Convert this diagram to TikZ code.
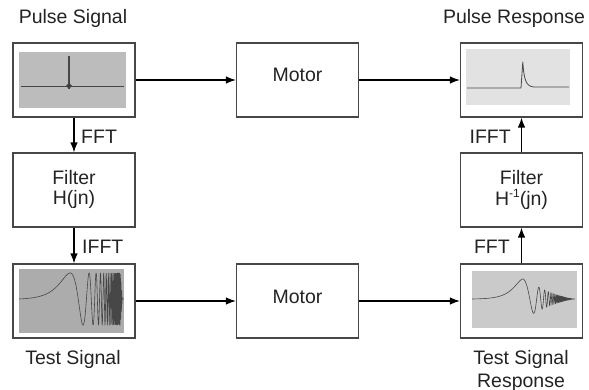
\documentclass[tikz,border=0pt]{standalone}
\usepackage{fontspec}
\setmainfont{Liberation Sans}
\usetikzlibrary{arrows.meta}
\definecolor{psgray}{RGB}{188,188,188}
\definecolor{prgray}{RGB}{226,226,226}
\definecolor{tsgray}{RGB}{172,172,172}
\definecolor{trgray}{RGB}{202,202,202}
\definecolor{txt}{RGB}{35,35,35}
\begin{document}
\begin{tikzpicture}[x=1pt,y=-1pt,
  lbl/.style={font=\fontsize{19.5}{22}\selectfont, text=txt, inner sep=0pt, anchor=base},
  blockbox/.style={draw=black!72, line width=1.1pt, minimum width=122pt, minimum height=74pt, inner sep=0pt},
  conn/.style={line width=1.3pt, draw=black, -{Latex[length=10pt,width=7.5pt]}},
  trace/.style={draw=black!72, line width=0.8pt, line join=round}]
\useasboundingbox (0,0) rectangle (589,390);
% boxes
\node[blockbox] (ps) at (74,80) {};
\node[blockbox] (m1) at (297.5,80) {};
\node[blockbox] (pr) at (521.5,80) {};
\node[blockbox] (f1) at (74,190) {};
\node[blockbox] (f2) at (521.5,190) {};
\node[blockbox] (ts) at (74,301) {};
\node[blockbox] (m2) at (297.5,301) {};
\node[blockbox] (tr) at (521.5,301) {};
% pulse signal picture
\fill[psgray] (19,52) rectangle (126,108);
\draw[trace] (21,86) -- (124,86);
\draw[trace, line width=2pt] (69,56) -- (69,89);
\fill[black!75] (66,86) -- (69,83) -- (72,86) -- (69,89) -- cycle;
% pulse response picture
\fill[prgray] (466,49) rectangle (570,105);
\draw[trace] (467,88) -- (521,88) -- (522.8,62) .. controls (524,80) and (526,86.5) .. (534,87) -- (569,87);
% test signal picture
\fill[tsgray] (19,269) rectangle (124,333);
\draw[trace, line width=0.6pt] plot[domain=0:1, samples=1400, variable=\t]
  ({19+105*\t}, {299 - 26*max(0,min(1,(0.985-\t)/0.02))*sin(360*mod(exp(8.8*\t-5.65)-0.003517,1))});
% test response picture
\fill[trgray] (472,271) rectangle (577,328);
\draw[trace, line width=0.6pt] plot[domain=0:1, samples=1800, variable=\t]
  ({472+103*\t}, {299 - (\t<0.5 ? 20 : 40*(1-\t)*sqrt(2*(1-\t)))*sin(360*mod(exp(10.4*\t-6.528)-0.001461,1))});
% labels
\node[lbl] (lps) at (73,24) {Pulse Signal};
\node[lbl] (lpr) at (514,24) {Pulse Response};
\node[lbl] (lm1) at (297.5,82) {Motor};
\node[lbl] (lm2) at (297.5,303) {Motor};
\node[lbl] (lf1a) at (74,185) {Filter};
\node[lbl] (lf1b) at (74,205) {H(jn)};
\node[lbl] (lf2a) at (521.5,185) {Filter};
\node[lbl] (lf2b) at (521.5,206) {H\raisebox{0.45em}{\fontsize{12}{12}\selectfont -1}(jn)};
\node[lbl] (lts) at (73,364) {Test Signal};
\node[lbl] (ltr1) at (521,364) {Test Signal};
\node[lbl] (ltr2) at (521,387) {Response};
\node[lbl, anchor=base west] (fft1) at (81,144) {FFT};
\node[lbl, anchor=base west] (ifft1) at (82,254) {IFFT};
\node[lbl, anchor=base east] (ifft2) at (511,144) {IFFT};
\node[lbl, anchor=base east] (fft2) at (510,254) {FFT};
% connectors
\draw[conn] (ps) -- (m1);
\draw[conn] (m1) -- (pr);
\draw[conn] (ts) -- (m2);
\draw[conn] (m2) -- (tr);
\draw[conn] (ps) -- (f1);
\draw[conn] (f1) -- (ts);
\draw[conn] (tr.north) -- (f2.south);
\draw[conn] (f2.north) -- (pr.south);
\end{tikzpicture}
\end{document}
